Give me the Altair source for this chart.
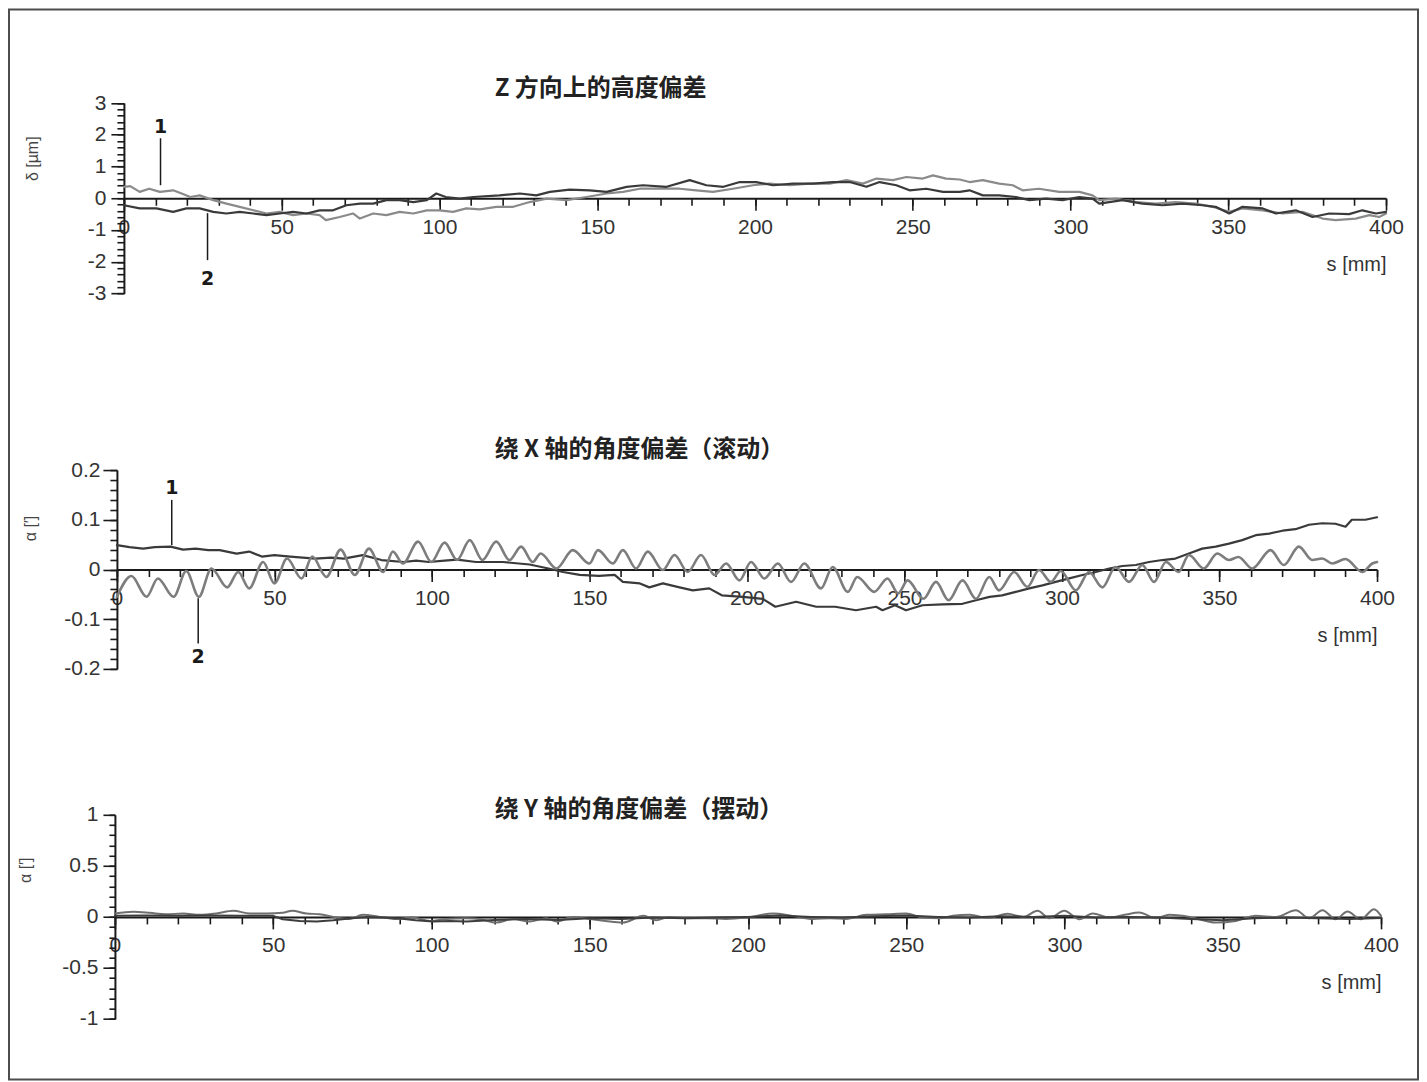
import altair as alt
import pandas as pd

# ------------------------------------------------------------------ text
TITLES = ["Z 方向上的高度偏差", "绕 X 轴的角度偏差（滚动）", "绕 Y 轴的角度偏差（摆动）"]
Y_TITLES = ["δ [µm]", "α [′]", "α [′]"]
X_TITLE = "s [mm]"

# ------------------------------------------------------------------ ticks
S_MAJOR = [0, 50, 100, 150, 200, 250, 300, 350, 400]
S_MINOR = list(range(0, 401, 10))
P1_Y_MAJOR = [-3, -2, -1, 0, 1, 2, 3]
P1_Y_MINOR = [round(-3 + 0.2 * i, 1) for i in range(31)]
P2_Y_MAJOR = [-0.2, -0.1, 0, 0.1, 0.2]
P2_Y_MINOR = [round(-0.2 + 0.02 * i, 2) for i in range(21)]
P3_Y_MAJOR = [-1, -0.5, 0, 0.5, 1]
P3_Y_MINOR = [round(-1 + 0.1 * i, 1) for i in range(21)]

# ------------------------------------------------------------------ data (s [mm], value)
# Panel 1: height deviation in Z [µm]
P1_S1 = [(0, 0.36), (2, 0.38), (5, 0.20), (8, 0.30), (11.4, 0.20), (15.6, 0.25), (18.3, 0.15), (21, 0.04),
         (24, 0.09), (28.3, -0.06), (32.5, -0.17), (36.7, -0.27), (41, -0.38), (45.2, -0.48), (49.4, -0.43),
         (53.6, -0.53), (57.9, -0.48), (62, -0.53), (64, -0.69), (68.4, -0.59), (72.6, -0.48), (74.8, -0.64),
         (79, -0.48), (83.2, -0.53), (87.4, -0.43), (91.7, -0.48), (96, -0.38), (100, -0.38), (104.3, -0.43),
         (108.5, -0.32), (112.8, -0.35), (118, -0.27), (123.4, -0.27), (128.6, -0.12), (134, -0.01),
         (140.3, -0.06), (146.6, 0.04), (153, 0.15), (158.2, 0.20), (163.5, 0.30), (169.8, 0.30), (176.2, 0.30),
         (181.4, 0.25), (186.7, 0.20), (193, 0.30), (199.4, 0.41), (204.7, 0.46), (211, 0.41), (217.3, 0.46),
         (223.7, 0.46), (229, 0.57), (234.2, 0.46), (238.5, 0.62), (243.7, 0.57), (248, 0.67), (253.2, 0.62),
         (256.4, 0.72), (260.6, 0.62), (264.9, 0.59), (268, 0.51), (272.2, 0.57), (277.4, 0.46), (281.7, 0.41),
         (284.8, 0.25), (290, 0.30), (296.4, 0.20), (302.8, 0.20), (307, 0.09), (309.1, -0.06), (314.4, -0.01),
         (320.7, -0.12), (327, -0.17), (333.4, -0.12), (339.7, -0.17), (345, -0.27), (350.3, -0.43),
         (354.5, -0.32), (360.9, -0.38), (367.2, -0.48), (373.5, -0.43), (379.9, -0.64), (384, -0.69),
         (390.4, -0.64), (394.7, -0.53), (397.8, -0.59), (400, -0.48)]
P1_S2 = [(0, -0.22), (5, -0.32), (10.3, -0.32), (15.6, -0.43), (19.8, -0.32), (24, -0.32), (28.3, -0.43),
         (32.5, -0.48), (36.7, -0.43), (41, -0.48), (45.2, -0.53), (49.4, -0.48), (53.6, -0.43), (57.9, -0.48),
         (62, -0.38), (66.3, -0.38), (70.5, -0.22), (74.8, -0.17), (79, -0.17), (83.2, -0.06), (87.4, -0.06),
         (91.7, -0.12), (96, -0.06), (99, 0.15), (102, 0.04), (106.4, -0.01), (110.7, 0.04), (119, 0.09),
         (125.5, 0.15), (130.7, 0.09), (135, 0.20), (141.3, 0.27), (147.6, 0.25), (153, 0.20), (159.3, 0.36),
         (164.5, 0.41), (172, 0.36), (179.3, 0.57), (184.6, 0.41), (190, 0.36), (195.2, 0.51), (200.4, 0.51),
         (205.7, 0.41), (212, 0.46), (218.4, 0.46), (224.7, 0.51), (230, 0.51), (235.3, 0.36), (239.5, 0.51),
         (244.8, 0.41), (249, 0.25), (254.3, 0.30), (259.6, 0.20), (264.9, 0.20), (268, 0.25), (272.2, 0.09),
         (277.4, 0.09), (282.7, 0.04), (287, -0.06), (292.2, -0.01), (297.5, -0.06), (302.8, 0.04), (307, -0.01),
         (309.1, -0.17), (316.5, -0.06), (322.8, -0.17), (329.2, -0.22), (335.5, -0.17), (341.9, -0.22),
         (346, -0.27), (350.3, -0.48), (354.5, -0.27), (360.9, -0.32), (365.1, -0.48), (371.4, -0.38),
         (376.7, -0.59), (382, -0.48), (388.3, -0.50), (392.5, -0.38), (396.8, -0.48), (400, -0.43)]

# Panel 2: angular deviation about X (roll)
P2_S1 = [(0, 0.049), (4, 0.045), (8.3, 0.042), (12, 0.045), (17, 0.046), (21, 0.040), (25, 0.042), (29, 0.039),
         (32.6, 0.039), (38, 0.032), (42, 0.036), (46, 0.026), (50, 0.029), (55, 0.026), (59, 0.024), (63, 0.022),
         (68, 0.024), (72, 0.022), (78, 0.029), (84, 0.019), (91, 0.015), (95, 0.018), (99, 0.015), (104, 0.018),
         (108, 0.020), (114, 0.015), (122.5, 0.015), (131, 0.010), (137, 0.002), (141.6, -0.005), (146.9, -0.011),
         (153, -0.013), (158, -0.011), (160.6, -0.025), (166, -0.028), (169, -0.036), (173.3, -0.028),
         (178.6, -0.036), (182.8, -0.042), (188, -0.038), (192, -0.052), (198.7, -0.055), (205, -0.059),
         (209, -0.075), (215.6, -0.065), (222, -0.075), (228, -0.075), (234.6, -0.082), (241, -0.075),
         (243, -0.082), (247, -0.072), (250.5, -0.082), (255.7, -0.072), (262, -0.070), (268.4, -0.069),
         (272.7, -0.062), (277, -0.055), (281, -0.052), (285.3, -0.045), (289.6, -0.038), (293.8, -0.032),
         (298, -0.025), (302.3, -0.018), (306.5, -0.011), (310.7, -0.005), (315, 0.002), (319.2, 0.007),
         (323.4, 0.009), (327.6, 0.015), (331.9, 0.019), (336, 0.022), (340.3, 0.032), (344.5, 0.042),
         (348.8, 0.046), (353, 0.052), (357.2, 0.059), (361.5, 0.069), (365.7, 0.072), (370, 0.078),
         (374.1, 0.081), (378.4, 0.090), (382.6, 0.093), (386.8, 0.092), (390, 0.086), (392, 0.100),
         (396.3, 0.100), (400, 0.105)]
P2_S2 = [(0, -0.055), (4.6, -0.013), (9.4, -0.055), (13, -0.018), (18, -0.055), (22, -0.003), (26, -0.055),
         (30, 0.002), (35, -0.036), (38.5, -0.005), (42, -0.038), (46.4, 0.015), (50, -0.028), (54, 0.022),
         (58.6, -0.018), (62, 0.026), (66.5, -0.015), (71, 0.040), (75.5, -0.011), (80, 0.042), (84.5, -0.005),
         (87.6, 0.036), (90.8, 0.012), (95.6, 0.056), (99.8, 0.015), (104, 0.054), (108, 0.019), (112, 0.059),
         (116, 0.019), (120.4, 0.056), (124.6, 0.019), (128.3, 0.046), (132, 0.015), (134.5, 0.032),
         (139.5, 0.002), (144.7, 0.039), (150, 0.012), (152.7, 0.039), (157.4, 0.012), (160.6, 0.039),
         (164.8, 0.002), (168.5, 0.036), (173.3, -0.001), (177, 0.029), (181.2, -0.005), (185.4, 0.029),
         (189.7, -0.011), (193.4, 0.012), (197.6, -0.022), (201.3, 0.015), (205.5, -0.018), (209.8, 0.012),
         (214, -0.025), (218.2, 0.012), (223.5, -0.038), (227.2, 0.005), (232, -0.045), (235, -0.015),
         (240.4, -0.045), (244.6, -0.018), (248, -0.048), (251, -0.022), (256, -0.059), (260, -0.025),
         (264, -0.062), (268.4, -0.022), (272.7, -0.059), (276.9, -0.015), (280, -0.042), (284.8, -0.005),
         (289, -0.035), (292.7, -0.001), (296.5, -0.025), (299.6, -0.003), (304.4, -0.042), (308.6, -0.005),
         (312.8, -0.036), (317, 0.005), (321.3, -0.025), (325.5, 0.009), (329.2, -0.025), (333, 0.015),
         (337, -0.005), (340.3, 0.029), (345, 0.002), (349.3, 0.032), (353, 0.019), (356, 0.025),
         (360.4, 0.002), (366.2, 0.039), (370.4, 0.009), (375.2, 0.046), (379.4, 0.019), (382.6, 0.022),
         (385.8, 0.012), (390, 0.021), (395.3, -0.005), (398.5, 0.012), (400, 0.015)]

# Panel 3: angular deviation about Y (pitch)
P3_S1 = [(0, 0.033), (5.8, 0.05), (11, 0.04), (16, 0.026), (21.6, 0.033), (26.8, 0.02), (32, 0.033),
         (37.4, 0.06), (42.6, 0.033), (48, 0.033), (53, 0.04), (56, 0.06), (60.5, 0.033), (64.7, 0.026),
         (69, 0.0), (74, -0.02), (78.4, 0.02), (83.7, 0.0), (89, -0.02), (94, -0.007), (99.5, -0.04),
         (104.7, -0.02), (111, -0.013), (115, -0.02), (120.5, -0.056), (125.8, -0.02), (131, -0.046),
         (136.3, -0.013), (139.5, -0.046), (144.7, 0.0), (150, -0.02), (155, -0.04), (160.5, -0.056),
         (167, 0.01), (171, -0.033), (175, 0.0), (180.5, -0.013), (187, -0.013), (193, -0.02), (199.5, -0.007),
         (208, 0.033), (214, 0.01), (220.5, -0.02), (226, -0.013), (231, -0.02), (237.4, 0.02), (243.7, 0.026),
         (250, 0.033), (255.3, -0.007), (260.5, -0.013), (264.7, 0.01), (270, 0.02), (276, -0.01), (282, 0.03),
         (287, 0.0), (291.5, 0.06), (295.2, -0.013), (299.9, 0.06), (304.7, -0.023), (308.9, 0.033),
         (314.1, -0.007), (319, 0.02), (323.6, 0.043), (328.9, -0.013), (333.1, 0.02), (339.4, 0.0),
         (347.8, -0.056), (354.1, -0.04), (360.4, 0.01), (366.8, 0.0), (373.1, 0.066), (377.3, -0.013),
         (381.5, 0.066), (385.7, -0.023), (389.4, 0.052), (393.6, -0.023), (397.8, 0.075), (400, 0.01)]
P3_S2 = [(0, 0.01), (10, 0.013), (20, 0.01), (30, 0.013), (40, 0.01), (50, 0.01), (53, -0.023), (58.4, -0.04),
         (63.7, -0.046), (69, -0.033), (74, -0.016), (79.5, 0.0), (84.7, -0.007), (90, -0.016), (95, -0.033),
         (100.5, -0.046), (105.8, -0.04), (111, -0.046), (120, -0.03), (130, -0.02), (140, -0.03), (150, -0.013),
         (160, -0.02), (170, -0.007), (180, -0.013), (190, -0.007), (200, 0.0), (210, 0.013), (220, 0.0),
         (230, -0.007), (240, 0.007), (250, 0.013), (260, 0.0), (270, -0.007), (280, 0.007), (290, 0.0),
         (300, 0.01), (310, -0.007), (320, 0.0), (330, -0.007), (340, -0.02), (350, -0.033), (360, -0.013),
         (370, -0.007), (380, -0.013), (390, -0.02), (400, -0.01)]

# Curve labels (label, s, label value, leader start, leader end)
P1_ANN_LABEL = ["1", "2"]
P1_ANN_S = [11.6, 26.5]
P1_ANN_TEXT_V = [2.24, -2.53]
P1_ANN_FROM = [1.89, -0.47]
P1_ANN_TO = [0.41, -1.95]
P2_ANN_LABEL = ["1", "2"]
P2_ANN_S = [17.4, 25.8]
P2_ANN_TEXT_V = [0.164, -0.177]
P2_ANN_FROM = [0.14, -0.058]
P2_ANN_TO = [0.049, -0.149]

# ------------------------------------------------------------------ layout (page pixels)
ORIGIN = 9          # page margin 8 + padding 1
W, H = 1410, 1071


def vp(px):
    return px - ORIGIN


LAYOUT = [
    dict(x0=124, x1=1387, yb=293.3, yt=102.7, title=(495, 89), ytitle=(33, 158),
         ytick=13, ypad=5, yminor=7),
    dict(x0=117, x1=1378, yb=669, yt=470, title=(495, 450), ytitle=(31, 528),
         ytick=14, ypad=3, yminor=7),
    dict(x0=115, x1=1382, yb=1019.3, yt=815, title=(495, 810), ytitle=(26, 870),
         ytick=12, ypad=5, yminor=6),
]

LABEL_FONT = "Liberation Sans"
INK = "#1a1a1a"
LABEL_INK = "#333333"


def build_panel(i, series, ydom, ymaj, ymin, ann=None):
    """Returns a list of layers (each with its own, identical, scales)."""
    lay = LAYOUT[i]
    xs = alt.Scale(domain=[0, 400], range=[vp(lay["x0"]), vp(lay["x1"])], nice=False, zero=False)
    ys = alt.Scale(domain=ydom, range=[vp(lay["yb"]), vp(lay["yt"])], nice=False, zero=False)
    zero_px = vp(lay["yb"]) + (0 - ydom[0]) / (ydom[1] - ydom[0]) * (vp(lay["yt"]) - vp(lay["yb"]))

    x_major = alt.Axis(
        orient="bottom", offset=zero_px - H, values=S_MAJOR, grid=False,
        labelExpr="datum.value + ''", tickSize=12,
        domainColor=INK, domainWidth=2, tickColor=INK, tickWidth=1.6,
        labelFont=LABEL_FONT, labelFontSize=21, labelColor=LABEL_INK, labelPadding=6,
        labelFlush=False, labelOverlap=False,
        title=X_TITLE, titleFont=LABEL_FONT, titleFontSize=20, titleFontWeight="normal",
        titleColor=LABEL_INK, titleX=vp(lay["x1"]), titleY=56, titleAlign="right",
        titleBaseline="top",
    )
    x_minor = alt.Axis(
        orient="bottom", offset=zero_px - H, values=S_MINOR, grid=False,
        labels=False, domain=False, tickSize=7, tickColor=INK, tickWidth=1.6, title=None,
    )
    y_major = alt.Axis(
        orient="left", offset=-vp(lay["x0"]), values=ymaj, grid=False,
        labelExpr="datum.value + ''", tickSize=lay["ytick"],
        domainColor=INK, domainWidth=2, tickColor=INK, tickWidth=1.6,
        labelFont=LABEL_FONT, labelFontSize=21, labelColor=LABEL_INK, labelPadding=lay["ypad"],
        labelFlush=False, labelOverlap=False,
        title=Y_TITLES[i], titleFont=LABEL_FONT, titleFontSize=16, titleFontWeight="normal",
        titleColor="#444444", titleAngle=270, titleAlign="center", titleBaseline="middle",
        titleX=vp(lay["ytitle"][0]) - vp(lay["x0"]), titleY=vp(lay["ytitle"][1]),
    )
    y_minor = alt.Axis(
        orient="left", offset=-vp(lay["x0"]), values=ymin, grid=False,
        labels=False, domain=False, tickSize=lay["yminor"], tickColor=INK, tickWidth=1.6, title=None,
    )

    layers = []
    axes_for = [(x_major, y_major), (x_minor, y_minor)]
    for k, (pts, color, width, interp) in enumerate(series):
        df = pd.DataFrame(pts, columns=["s", "v"])
        ax, ay = axes_for[k] if k < 2 else (None, None)
        layers.append(
            alt.Chart(df).mark_line(color=color, strokeWidth=width, interpolate=interp,
                                    strokeJoin="round", strokeCap="round").encode(
                x=alt.X("s:Q", scale=xs, axis=ax),
                y=alt.Y("v:Q", scale=ys, axis=ay),
            )
        )

    if ann is not None:
        labels, s_vals, tv, v1, v2 = ann
        adf = pd.DataFrame({"label": labels, "s": s_vals, "tv": tv, "v1": v1, "v2": v2})
        layers.append(
            alt.Chart(adf).mark_rule(color=INK, strokeWidth=1.5).encode(
                x=alt.X("s:Q", scale=xs, axis=None),
                y=alt.Y("v1:Q", scale=ys, axis=None),
                y2="v2:Q",
            )
        )
        layers.append(
            alt.Chart(adf).mark_text(font="DejaVu Sans", fontSize=19, fontWeight="bold",
                                     color=INK, baseline="middle", align="center").encode(
                x=alt.X("s:Q", scale=xs, axis=None),
                y=alt.Y("tv:Q", scale=ys, axis=None),
                text="label:N",
            )
        )

    tdf = pd.DataFrame({"t": [TITLES[i]]})
    layers.append(
        alt.Chart(tdf).mark_text(font="Noto Sans CJK SC", fontSize=24, fontWeight="bold",
                                 color="#222222", align="left", baseline="middle").encode(
            x=alt.value(vp(lay["title"][0])),
            y=alt.value(vp(lay["title"][1])),
            text="t:N",
        )
    )
    return layers


p1 = build_panel(
    0,
    [(P1_S1, "#8a8a8a", 2.2, "linear"), (P1_S2, "#3a3a3a", 2.2, "linear")],
    [-3, 3], P1_Y_MAJOR, P1_Y_MINOR,
    ann=(P1_ANN_LABEL, P1_ANN_S, P1_ANN_TEXT_V, P1_ANN_FROM, P1_ANN_TO),
)
p2 = build_panel(
    1,
    [(P2_S1, "#3a3a3a", 2.2, "linear"), (P2_S2, "#7d7d7d", 2.6, "monotone")],
    [-0.2, 0.2], P2_Y_MAJOR, P2_Y_MINOR,
    ann=(P2_ANN_LABEL, P2_ANN_S, P2_ANN_TEXT_V, P2_ANN_FROM, P2_ANN_TO),
)
p3 = build_panel(
    2,
    [(P3_S1, "#6f6f6f", 2.0, "monotone"), (P3_S2, "#3d3d3d", 2.0, "linear")],
    [-1, 1], P3_Y_MAJOR, P3_Y_MINOR,
)

chart = (
    alt.layer(*(p1 + p2 + p3))
    .resolve_scale(x="independent", y="independent")
    .resolve_axis(x="independent", y="independent")
    .properties(width=W, height=H, padding=1, background="white",
                autosize=alt.AutoSizeParams(type="none"))
    .configure_view(stroke="#4d4d4d", strokeWidth=2)
)

chart.save("out.html", embed_options={"renderer": "svg", "actions": False})
